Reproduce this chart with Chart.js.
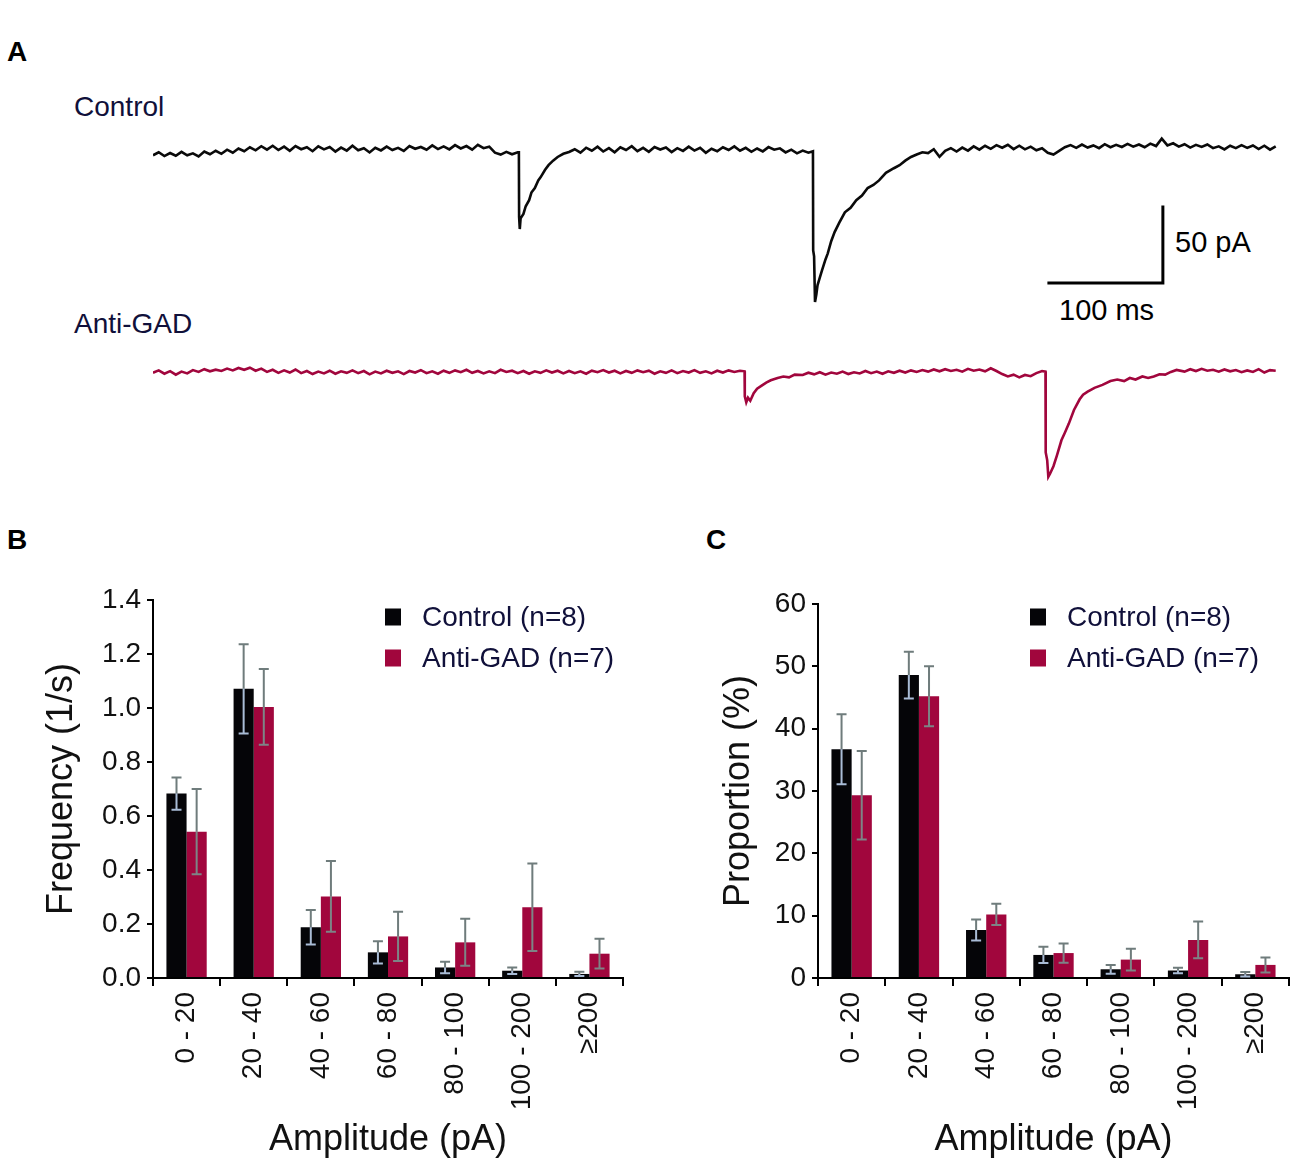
<!DOCTYPE html>
<html>
<head>
<meta charset="utf-8">
<title>mEPSC amplitude distribution</title>
<script src="https://cdn.jsdelivr.net/npm/chart.js@4.4.1/dist/chart.umd.min.js"></script>
<style>
  body { margin: 0; background: #fff; width: 1300px; height: 1169px; position: relative; overflow: hidden;
         font-family: "Liberation Sans", Arial, sans-serif; }
  canvas { position: absolute; }
  .txt { position: absolute; line-height: 1; white-space: nowrap; }
  .panel-id { font-weight: bold; font-size: 28px; color: #000; }
  .trace-name { font-size: 28px; color: #10103a; }
  .bar-label { font-size: 29px; color: #000; }
</style>
</head>
<body>
<div class="txt panel-id" style="left:7px; top:38px;">A</div>
<div class="txt panel-id" style="left:7px; top:526px;">B</div>
<div class="txt panel-id" style="left:706px; top:526px;">C</div>
<div class="txt trace-name" style="left:74px; top:93px;">Control</div>
<div class="txt trace-name" style="left:74px; top:310px;">Anti-GAD</div>
<div class="txt bar-label" style="left:1175px; top:228px;">50 pA</div>
<div class="txt bar-label" style="left:1059px; top:296px;">100 ms</div>

<canvas id="traces" width="1300" height="500" style="left:0; top:0;"></canvas>
<canvas id="freqChart" width="650" height="649" style="left:0; top:520px;"></canvas>
<canvas id="propChart" width="650" height="649" style="left:650px; top:520px;"></canvas>

<script>
// amplitude bins
const ampBins = ['0 - 20', '20 - 40', '40 - 60', '60 - 80', '80 - 100', '100 - 200', '\u2265200'];

// panel B: frequency (1/s), mean and SEM
const freqControl = [0.683, 1.071, 0.188, 0.095, 0.039, 0.027, 0.015];
const freqControlErr = [0.060, 0.165, 0.064, 0.041, 0.021, 0.012, 0.008];
const freqAntiGad = [0.542, 1.004, 0.302, 0.154, 0.132, 0.262, 0.090];
const freqAntiGadErr = [0.158, 0.140, 0.131, 0.091, 0.087, 0.162, 0.055];

// panel C: proportion (%), mean and SEM
const propControl = [36.7, 48.6, 7.7, 3.7, 1.4, 1.2, 0.6];
const propControlErr = [5.6, 3.75, 1.7, 1.3, 0.7, 0.45, 0.35];
const propAntiGad = [29.3, 45.2, 10.2, 4.0, 2.95, 6.1, 2.1];
const propAntiGadErr = [7.1, 4.8, 1.7, 1.55, 1.75, 2.95, 1.2];

// panel A: example traces, [time ms, current pA] relative to each baseline
const controlTrace = [
  [0,-3.5],[5,-1.5],[10,-4],[15,-2],[20,-3.8],[25,-1.2],[30,-3.5],[35,-2.2],[40,-4.2],[45,-1],
  [50,-2.8],[55,-0.5],[60,-2.5],[65,0.2],[70,-1.8],[75,1],[80,-0.8],[85,1.8],[90,-0.2],[95,2.5],
  [100,0.2],[105,2.8],[110,0],[115,2.2],[120,-0.5],[125,2.6],[130,0.5],[135,1.8],[140,-0.8],[145,2.4],
  [150,0.4],[155,2],[160,-1],[165,1.6],[170,-0.4],[175,2.8],[180,-0.2],[185,1.2],[190,-1.6],[195,1.5],
  [200,-0.3],[205,2.2],[210,0],[215,1.4],[220,-0.6],[225,2.6],[230,0.8],[235,2],[240,0.2],[245,3],
  [250,0.6],[255,2.4],[260,0.4],[265,3.2],[270,1],[275,2.6],[280,0.2],[285,3.4],[290,1.2],[295,2.2],
  [300,-1.8],[305,-3],[310,-1.2],[315,-2.8],[320,-1.5],
  [321,-1.5],[321.2,-44],[321.8,-52],[322.5,-45],[325,-42],[327,-37],[330,-33],[332,-28],[335,-25],
  [338,-20],[340,-18],[344,-13],[347,-10],[351,-7],[355,-4.6],[360,-2.5],[365,-1.3],
  [370,0.5],[375,-1.8],[380,1.5],[385,-0.5],[390,2.2],[395,-1],[400,1.2],[405,-1.5],[410,1.8],[415,0],
  [420,2.5],[425,-0.8],[430,1.4],[435,-1.2],[440,2],[445,0.3],[450,1.6],[455,-1.4],[460,1.2],[465,-0.6],
  [470,2.2],[475,-0.4],[480,1.5],[485,-1.8],[490,0.8],[495,-0.8],[500,1.8],[505,0],[510,2.4],[515,-0.5],
  [520,1.4],[525,-1.2],[530,1],[535,-0.9],[540,1.9],[545,0.2],[550,1.1],[555,-1.6],[560,0.2],[565,-2.2],
  [570,-0.4],[575,-1.8],
  [579,-0.8],[579.2,-66],[580,-70],[580.8,-100],[582,-95],[583,-89],[585,-84],[587,-79],[590,-72],
  [592,-68],[595,-60],[598,-54],[602,-48],[607,-41],[612,-38],[617,-33],[622,-30],[627,-25],[632,-23],
  [637,-20],[643,-15],[650,-12],[655,-10],[660,-7],[665,-4.6],[670,-3],[675,-1.5],[680,-2],[685,0.5],
  [690,-4.5],[695,-0.5],[700,1.2],[705,-1],
  [710,1.6],[715,-0.4],[720,2.4],[725,0.2],[730,2.8],[735,0.8],[740,3.2],[745,1.5],[750,3.4],[755,0.6],
  [760,2.8],[765,0.4],[770,2.2],[775,-0.2],[780,1.2],[785,-1.8],[790,-3],[795,-0.6],[800,1.8],[805,3.2],
  [810,1.4],[815,3.6],[820,1.6],[825,3],[830,1.2],[835,3.8],[840,1.8],[845,3.4],[850,2],[855,4],
  [860,2.2],[865,3.6],[870,1.8],[875,4.2],[880,2.6],[885,7.5],[890,3],[895,4.4],[900,2.2],[905,3.8],
  [910,1.6],[915,3.4],[920,2],[925,3.6],[930,1.2],[935,2.4],[940,0.4],[945,2.8],[950,1.2],[955,3.2],
  [960,1.4],[965,3],[970,0.6],[975,2.8],[980,0.2],[985,2.4]
];

const antiGadTrace = [
  [0,-0.5],[5,1],[10,-1.2],[15,0.5],[20,-1.8],[25,0.2],[30,-1],[35,1.2],[40,0],[45,1.8],
  [50,0.4],[55,1.5],[60,0.6],[65,2.2],[70,1],[75,2.6],[80,1.4],[85,2.8],[90,0.8],[95,2.2],
  [100,0],[105,1.4],[110,-0.6],[115,1],[120,-0.4],[125,1.6],[130,-0.8],[135,0.6],[140,-1.4],[145,0.2],
  [150,-1],[155,0.8],[160,-1.2],[165,0.4],[170,-0.6],[175,1],[180,-0.8],[185,0.6],[190,-1.6],[195,0.2],
  [200,-1],[205,0.8],[210,-0.6],[215,0.4],[220,-1.4],[225,0.6],[230,-0.4],[235,1.2],[240,-0.8],[245,0.4],
  [250,-1.2],[255,0.8],[260,-0.6],[265,1],[270,-0.2],[275,1.4],[280,-0.6],[285,0.6],[290,-1],[295,0.4],
  [300,-0.8],[305,1.4],[310,0],[315,0.8],[320,-0.8],[325,0.6],[330,-1.2],[335,0.4],[340,-0.6],[345,1],
  [350,-0.4],[355,0.8],[360,-1],[365,0.6],[370,-0.8],[375,0.4],[380,-1.2],[385,0.8],[390,-0.2],[395,1.2],
  [400,-0.4],[405,0.8],[410,-1],[415,0.6],[420,-0.6],[425,1],[430,-0.2],[435,0.8],[440,-1.2],[445,0.4],
  [450,-0.6],[455,1],[460,-0.8],[465,0.6],[470,-0.4],[475,1.2],[480,-0.6],[485,0.4],[490,-1],[495,0.8],
  [500,-0.4],[505,1],[510,0],[515,0.8],
  [519,0.4],[519.2,-16],[520.5,-20],[522,-17],[524,-19],[527,-14],[530,-11],[534,-9],[538,-7],[542,-5.5],
  [548,-4],[553,-3],[558,-3.6],[563,-1.8],[570,-2],[575,-0.5],
  [580,-1.6],[585,-0.2],[590,-1.8],[595,-0.4],[600,-1.2],[605,0.2],[610,-1.4],[615,-0.2],[620,-1],[625,0.6],
  [630,-0.8],[635,0.2],[640,-1.2],[645,0.4],[650,-0.6],[655,0.8],[660,-0.4],[665,1],[670,0],[675,1.2],
  [680,0.2],[685,1.6],[690,0.4],[695,1.8],[700,0.6],[705,1.4],[710,0.2],[715,2],[720,0.8],[725,1.6],
  [730,0.4],[735,2.4],[740,0.6],[745,-1.4],[750,-3],[755,-1.8],[760,-3.6],[765,-2],[770,-2.8],[775,-0.8],
  [780,0.6],
  [783,0.2],[783.2,-53],[784.5,-58],[785.5,-69],[787,-67],[790,-62],[793,-55],[797,-45],[800,-40],
  [803.5,-34],[808,-25],[813,-18],[816,-15],[820,-13],[826,-10.5],[833,-8.5],[840,-6],[846,-5],[852,-6],
  [857,-4],[862,-5],[868,-3],[873,-4],[878,-3],[883,-1.5],[888,-1.8],[893,0],[898,1.3],
  [905,0.2],[910,1.8],[915,0.6],[920,2],[925,0.8],[930,1.4],[935,0.2],[940,1.6],[945,0.4],[950,1.2],
  [955,-0.2],[960,1],[965,0],[970,1.8],[975,-0.4],[980,1.2],[985,0.8]
];

const scaleBarMs = 100;
const scaleBarPa = 50;

const FONT = '"Liberation Sans", Arial, sans-serif';
Chart.defaults.font.family = FONT;
Chart.defaults.color = '#111';
Chart.defaults.animation = false;

const BLACK = '#050508';
const CRIMSON = '#a1063d';

// ---------- panel A ----------
const traceOffset = -146;  // vertical offset of the Anti-GAD trace on the page

const scaleBar = {
  id: 'scaleBar',
  afterDatasetsDraw(chart, args, opts) {
    const { x, y } = chart.scales;
    const xr = x.getPixelForValue(opts.t);
    const xl = x.getPixelForValue(opts.t - scaleBarMs);
    const yb = y.getPixelForValue(opts.v);
    const yt = y.getPixelForValue(opts.v + scaleBarPa);
    const ctx = chart.ctx;
    ctx.save();
    ctx.strokeStyle = '#000';
    ctx.lineWidth = 3;
    ctx.lineCap = 'square';
    ctx.beginPath();
    ctx.moveTo(xl, yb);
    ctx.lineTo(xr, yb);
    ctx.lineTo(xr, yt);
    ctx.stroke();
    ctx.restore();
  }
};

new Chart(document.getElementById('traces'), {
  type: 'line',
  data: {
    datasets: [
      {
        label: 'Control',
        data: controlTrace.map(p => ({ x: p[0], y: p[1] })),
        borderColor: '#0a0a0a',
        borderWidth: 2.6,
        pointRadius: 0,
        tension: 0
      },
      {
        label: 'Anti-GAD',
        data: antiGadTrace.map(p => ({ x: p[0], y: p[1] + traceOffset })),
        borderColor: CRIMSON,
        borderWidth: 2.6,
        pointRadius: 0,
        tension: 0
      }
    ]
  },
  options: {
    responsive: false,
    events: [],
    layout: { padding: { left: 153, right: 22, top: 0, bottom: 0 } },
    plugins: {
      legend: { display: false },
      tooltip: { enabled: false },
      scaleBar: { t: 886, v: -87.5 }
    },
    scales: {
      x: { type: 'linear', min: 0, max: 987, display: false },
      y: { min: -230.26, max: 98.68, display: false }
    }
  },
  plugins: [scaleBar]
});

// ---------- panels B and C ----------
const errorBars = {
  id: 'errorBars',
  afterDatasetsDraw(chart) {
    const ctx = chart.ctx;
    const yScale = chart.scales.y;
    chart.data.datasets.forEach((ds, i) => {
      const meta = chart.getDatasetMeta(i);
      meta.data.forEach((bar, j) => {
        const v = ds.data[j];
        const e = ds.errors[j];
        const x = bar.x;
        const yMid = yScale.getPixelForValue(v);
        const yTop = yScale.getPixelForValue(v + e);
        const yBot = yScale.getPixelForValue(Math.max(v - e, 0));
        ctx.save();
        ctx.lineWidth = 2;
        ctx.strokeStyle = '#6f7c7c';
        ctx.beginPath();
        ctx.moveTo(x, yMid); ctx.lineTo(x, yTop);
        ctx.moveTo(x - 5, yTop); ctx.lineTo(x + 5, yTop);
        ctx.stroke();
        ctx.strokeStyle = ds.innerErrColor;
        ctx.beginPath();
        ctx.moveTo(x, yMid); ctx.lineTo(x, yBot);
        ctx.moveTo(x - 5, yBot); ctx.lineTo(x + 5, yBot);
        ctx.stroke();
        ctx.restore();
      });
    });
  }
};

const boxLegend = {
  id: 'boxLegend',
  afterDraw(chart, args, opts) {
    const ctx = chart.ctx;
    ctx.save();
    ctx.font = '28px ' + FONT;
    ctx.textBaseline = 'middle';
    chart.data.datasets.forEach((ds, i) => {
      const cy = opts.y + i * opts.gap;
      ctx.fillStyle = ds.backgroundColor;
      ctx.fillRect(opts.x, cy - 8.5, 16, 17);
      ctx.fillStyle = '#10103a';
      ctx.fillText(ds.label, opts.x + 37, cy + 1);
    });
    ctx.restore();
  }
};

function barChart(canvasId, control, controlErr, antiGad, antiGadErr, yOpts, box) {
  return new Chart(document.getElementById(canvasId), {
    type: 'bar',
    data: {
      labels: ampBins,
      datasets: [
        {
          label: 'Control (n=8)',
          data: control,
          errors: controlErr,
          backgroundColor: BLACK,
          innerErrColor: '#a9bcd6',
          categoryPercentage: 0.6,
          barPercentage: 1.0
        },
        {
          label: 'Anti-GAD (n=7)',
          data: antiGad,
          errors: antiGadErr,
          backgroundColor: CRIMSON,
          innerErrColor: '#7d8486',
          categoryPercentage: 0.6,
          barPercentage: 1.0
        }
      ]
    },
    options: {
      responsive: false,
      events: [],
      layout: { padding: { left: 0, right: box.right, top: box.top, bottom: 0 } },
      plugins: {
        legend: { display: false },
        tooltip: { enabled: false },
        boxLegend: { x: box.legendX, y: 97, gap: 41 }
      },
      scales: {
        x: {
          offset: true,
          afterFit: s => { s.height = 191; },
          grid: { offset: true, drawOnChartArea: false, drawTicks: true, tickLength: 8, color: '#000', lineWidth: 2 },
          border: { display: true, color: '#000', width: 2 },
          ticks: { autoSkip: false, minRotation: 90, maxRotation: 90, padding: 6, color: '#111', font: { size: 28 } },
          title: { display: true, text: 'Amplitude (pA)', color: '#111', font: { size: 36 }, padding: { top: 0, bottom: 7 } }
        },
        y: {
          min: yOpts.min,
          max: yOpts.max,
          afterFit: s => { s.width = box.axisX; },
          grid: { drawOnChartArea: false, drawTicks: true, tickLength: 6, color: '#000', lineWidth: 2 },
          border: { display: true, color: '#000', width: 2 },
          ticks: { stepSize: yOpts.step, padding: 6, color: '#111', font: { size: 28 }, callback: yOpts.fmt },
          title: { display: true, text: yOpts.title, color: '#111', font: { size: 36 }, padding: { top: box.titlePad, bottom: 0 } }
        }
      }
    },
    plugins: [errorBars, boxLegend]
  });
}

barChart('freqChart', freqControl, freqControlErr, freqAntiGad, freqAntiGadErr,
  { min: 0, max: 1.4, step: 0.2, title: 'Frequency (1/s)', fmt: v => v.toFixed(1) },
  { axisX: 153, right: 27, top: 80, titlePad: 40, legendX: 385 });

barChart('propChart', propControl, propControlErr, propAntiGad, propAntiGadErr,
  { min: 0, max: 60, step: 10, title: 'Proportion (%)', fmt: v => v },
  { axisX: 168, right: 11, top: 84, titlePad: 67, legendX: 380 });
</script>
</body>
</html>
